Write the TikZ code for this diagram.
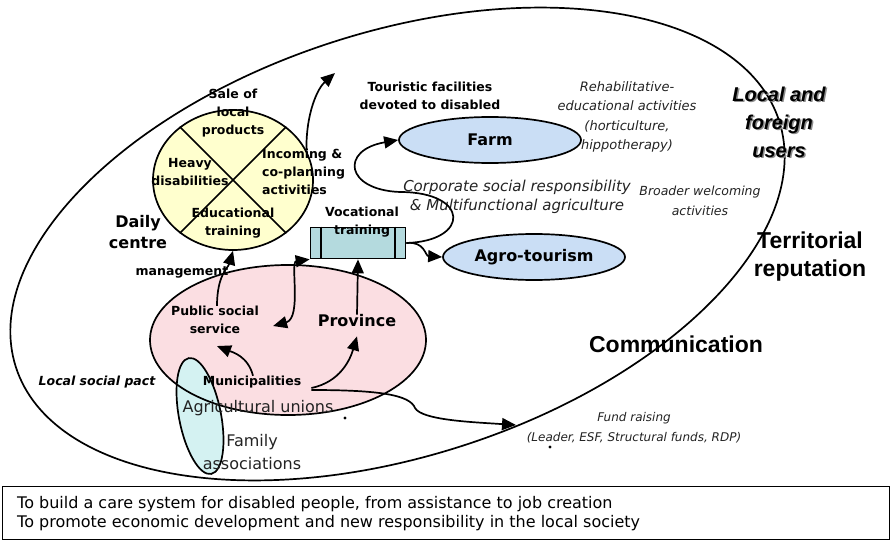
\documentclass[tikz,border=0pt]{standalone}
\usepackage{fontspec}
\setmainfont{DejaVu Sans}
\newfontfamily\arialfont{Liberation Sans}
\usetikzlibrary{arrows.meta,calc,positioning,shapes.geometric}
\definecolor{figCream}{RGB}{255,255,206}
\definecolor{figPink}{RGB}{251,222,226}
\definecolor{figAqua}{RGB}{212,242,242}
\definecolor{figSky}{RGB}{202,222,245}
\definecolor{figTeal}{RGB}{180,218,222}
\definecolor{figGray}{RGB}{35,35,35}
\definecolor{figShade}{RGB}{140,140,140}
\tikzset{
  figline/.style={line width=1.7pt},
  figarrow/.style={-{Triangle[length=14pt,width=12pt]},line width=1.7pt},
  figtwoway/.style={{Triangle[length=14pt,width=12pt]}-{Triangle[length=14pt,width=12pt]},line width=1.7pt},
  figbold/.style={font=\bfseries\fontsize{12.5}{18}\selectfont,align=center,inner sep=0pt},
  figbig/.style={font=\bfseries\fontsize{16}{21}\selectfont,align=center,inner sep=0pt},
  figitalic/.style={font=\itshape\fontsize{13}{19.5}\selectfont,text=figGray,align=center,inner sep=0pt},
  figplain/.style={font=\fontsize{16}{23}\selectfont,text=figGray,align=center,inner sep=0pt},
  figtitle/.style={font=\arialfont\bfseries\fontsize{23}{28}\selectfont,align=center,inner sep=0pt},
  figoval/.style={ellipse,draw,line width=1.7pt,fill=figSky,minimum width=182pt,minimum height=46pt,
    inner sep=0pt,font=\bfseries\fontsize{16}{19}\selectfont},
}

\begin{document}
\begin{tikzpicture}[x=1pt,y=-1pt]
  \useasboundingbox (0,0) rectangle (890,540);

  % Outer territory
  \draw[figline,rotate around={17.9:(397.5,244)}] (397.5,244) ellipse (401 and 212);

  % Local actors: public sector and associations
  \fill[figPink] (288,340) ellipse (138 and 75);
  \fill[figAqua,rotate around={11:(200,416)}] (200,416) ellipse (21 and 59);
  \draw[figline] (288,340) ellipse (138 and 75);
  \draw[figline,rotate around={11:(200,416)}] (200,416) ellipse (21 and 59);

  % Daily centre wheel
  \node[ellipse,draw,figline,fill=figCream,minimum width=160pt,minimum height=140pt,inner sep=0pt]
    (wheel) at (233,180) {};
  \draw[figline] (wheel.135) -- (wheel.-45);
  \draw[figline] (wheel.45) -- (wheel.-135);
  \node[figbold] (sale) at (233,113) {Sale of\\local\\products};
  \node[figbold] (heavy) at (190,172) {Heavy\\disabilities};
  \node[figbold,align=left,anchor=west] (incoming) at (262,172) {Incoming \&\\co-planning\\activities};
  \node[figbold] (educ) at (233,223) {Educational\\training};
  \node[figbig] (daily) at (138,232) {Daily\\centre};
  \node[figbold] (mgmt) at (182,272) {management};

  % Farm side
  \node[figoval] (farm) at (490,140) {Farm};
  \node[figoval] (agro) at (534,257) {Agro-tourism};
  \node[draw,figline,fill=figTeal,minimum width=95pt,minimum height=31pt,inner sep=0pt]
    (vbox) at (358,243) {};
  \draw[figline] ([xshift=11.5pt]vbox.north west) -- ([xshift=11.5pt]vbox.south west);
  \draw[figline] ([xshift=-11.5pt]vbox.north east) -- ([xshift=-11.5pt]vbox.south east);
  \node[figbold] (vtext) at (362,222) {Vocational\\training};

  % Actors
  \node[figbold] (public) at (215,320) {Public social\\service};
  \node[figbig] (province) at (357,321) {Province};
  \node[figbold] (munic) at (252,382) {Municipalities};
  \node[figplain] (unions) at (258,408) {Agricultural unions};
  \node[figplain] (family) at (252,452) {Family\\associations};
  \node[figbold,font=\bfseries\itshape\fontsize{12.5}{18}\selectfont] (pact) at (97,382) {Local social pact};

  % Free labels
  \node[figbold] (tourist) at (430,96) {Touristic facilities\\devoted to disabled};
  \node[figitalic] (rehab) at (627,117) {Rehabilitative-\\educational activities\\(horticulture,\\hippotherapy)};
  \node[figitalic,font=\itshape\fontsize{15}{19.5}\selectfont] (csr) at (517,197)
    {Corporate social responsibility\\\& Multifunctional agriculture};
  \node[figitalic,font=\itshape\fontsize{12.5}{20}\selectfont] (broader) at (700,201) {Broader welcoming\\activities};
  \node[figtitle,font=\arialfont\bfseries\itshape\fontsize{20}{28}\selectfont,text=figShade]
    at (780.5,123.5) {Local and\\foreign\\users};
  \node[figtitle,font=\arialfont\bfseries\itshape\fontsize{20}{28}\selectfont] (users) at (779,122) {Local and\\foreign\\users};
  \node[figtitle] (reput) at (810,257) {Territorial\\reputation};
  \node[figtitle] (comm) at (676,344) {Communication};
  \node[figitalic,font=\itshape\fontsize{12}{20}\selectfont] (fund) at (634,428) {Fund raising\\(Leader, ESF, Structural funds, RDP)};

  % Flows
  \coordinate (ttip) at (335,73);
  \coordinate (ftip) at (516,425);
  \draw[figarrow] (wheel.22) .. controls (306,112) and (318,88) .. (ttip);
  \draw[figarrow] (vbox.east) .. controls (470,241) and (470,192) .. (400,192)
    .. controls (345,190) and (340,150) .. (farm.west);
  \draw[figarrow] (vbox.east) .. controls (425,241) and (425,256) .. (agro.west);
  \draw[figarrow] ([xshift=2pt]public.north) .. controls (217,275) and (228,268) .. (wheel.south);
  \draw[figtwoway] ($(public.east)+(14,6)$) .. controls (302,318) and (290,262) .. (vbox.south west);
  \draw[figarrow] (province.north) -- (vbox.south);
  \draw[figarrow] ([xshift=1pt]munic.north) .. controls (248,356) and (232,352) .. ($(public.south)+(2,12)$);
  \draw[figarrow] ($(munic.east)+(10,6)$) .. controls (340,382) and (350,360) .. ($(province.south)+(0,9)$);
  \draw[figarrow] ($(munic.east)+(10,8)$) .. controls (380,390) and (410,395) .. (415,408)
    .. controls (422,420) and (470,422) .. (ftip);

  % Stray dots
  \fill (345,418) circle (1.6pt);
  \fill (550,447) circle (1.6pt);

  % Aims
  \draw[line width=0.8pt] (2,486) rectangle (889,539);
  \node[font=\fontsize{16}{19}\selectfont,align=left,anchor=north west,inner sep=0pt]
    (aims) at (17,496) {To build a care system for disabled people, from assistance to job creation\\
    To promote economic development and new responsibility in the local society};
\end{tikzpicture}
\end{document}
